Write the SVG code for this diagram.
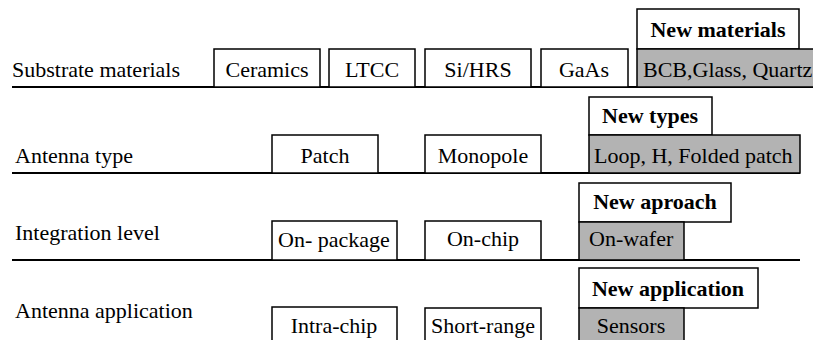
<svg xmlns="http://www.w3.org/2000/svg" width="813" height="340" viewBox="0 0 813 340">
<style>
.bx{fill:#fff;stroke:#000;stroke-width:1.5}
.gr{fill:#b3b3b3;stroke:#000;stroke-width:1.5}
.ln{stroke:#000;stroke-width:2;fill:none}
text{font-family:"Liberation Serif","Times New Roman",serif;font-size:22px;fill:#000}
.c{text-anchor:middle}
.b{font-weight:bold}
</style>
<rect width="813" height="340" fill="#fff"/>
<g id="rows">
<line class="ln" x1="12" y1="87" x2="813" y2="87"/>
<line class="ln" x1="12" y1="173" x2="800" y2="173"/>
<line class="ln" x1="12" y1="260" x2="800" y2="260"/>
</g>
<g id="labels">
<text x="12" y="77">Substrate materials</text>
<text x="15" y="163">Antenna type</text>
<text x="15" y="240">Integration level</text>
<text x="15" y="318">Antenna application</text>
</g>
<g id="ceramics"><rect class="bx" x="214" y="49" width="106" height="38"/><text class="c" x="267" y="77">Ceramics</text></g>
<g id="ltcc"><rect class="bx" x="329" y="49" width="86" height="38"/><text class="c" x="372" y="77">LTCC</text></g>
<g id="sihrs"><rect class="bx" x="425" y="49" width="106" height="38"/><text class="c" x="478" y="77">Si/HRS</text></g>
<g id="gaas"><rect class="bx" x="541" y="49" width="87" height="38"/><text class="c" x="584" y="77">GaAs</text></g>
<g id="newmat"><rect class="bx" x="637" y="9" width="162" height="40"/><text class="c b" x="718" y="37">New materials</text></g>
<g id="bcb"><rect class="gr" x="637" y="49" width="190" height="38"/><text x="643" y="77">BCB,Glass, Quartz</text></g>
<g id="patch"><rect class="bx" x="272" y="135" width="106" height="38"/><text class="c" x="325" y="163">Patch</text></g>
<g id="monopole"><rect class="bx" x="425" y="135" width="116" height="38"/><text class="c" x="483" y="163">Monopole</text></g>
<g id="newtypes"><rect class="bx" x="589" y="97" width="123" height="38"/><text class="c b" x="650" y="123">New types</text></g>
<g id="loop"><rect class="gr" x="589" y="135" width="211" height="38"/><text x="594" y="163">Loop, H, Folded patch</text></g>
<g id="onpackage"><rect class="bx" x="272" y="221" width="125" height="39"/><text class="c" x="334" y="247">On- package</text></g>
<g id="onchip"><rect class="bx" x="425" y="221" width="116" height="39"/><text class="c" x="483" y="246">On-chip</text></g>
<g id="newaproach"><rect class="bx" x="579" y="183" width="152" height="39"/><text class="c b" x="655" y="209">New aproach</text></g>
<g id="onwafer"><rect class="gr" x="579" y="222" width="105" height="38"/><text x="589" y="246">On-wafer</text></g>
<g id="intrachip"><rect class="bx" x="272" y="307" width="125" height="40"/><text class="c" x="334" y="333">Intra-chip</text></g>
<g id="shortrange"><rect class="bx" x="425" y="308" width="116" height="40"/><text class="c" x="483" y="333">Short-range</text></g>
<g id="newapp"><rect class="bx" x="579" y="268" width="179" height="40"/><text class="c b" x="668" y="296">New application</text></g>
<g id="sensors"><rect class="gr" x="579" y="308" width="105" height="40"/><text class="c" x="631" y="333">Sensors</text></g>
</svg>
